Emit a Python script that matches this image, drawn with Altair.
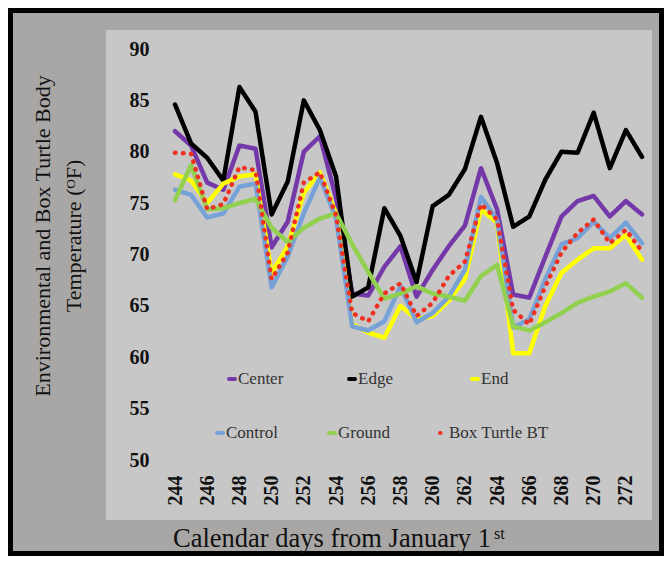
import altair as alt
import pandas as pd

# ---- data ----
days = list(range(244, 274))
series = ["Center", "Edge", "End", "Control", "Ground", "Box Turtle BT"]
colors = ["#7438a8", "#000000", "#ffff00", "#76a2d8", "#92d050", "#f03020"]
dashes = [[1, 0], [1, 0], [1, 0], [1, 0], [1, 0], [0.5, 7.5]]

center = [82.0, 80.6, 77.0, 76.3, 80.6, 80.3, 70.7, 73.2, 80.0, 81.5,
          75.5, 66.2, 66.0, 68.8, 70.8, 65.9, 68.5, 70.8, 72.8, 78.4,
          74.4, 66.1, 65.8, 69.8, 73.7, 75.2, 75.7, 73.7, 75.2, 73.9]
edge = [84.6, 80.8, 79.4, 77.2, 86.3, 83.9, 73.9, 77.1, 85.0, 82.1,
        77.6, 65.9, 66.8, 74.5, 71.8, 67.3, 74.7, 75.8, 78.3, 83.4,
        78.9, 72.7, 73.7, 77.3, 80.0, 79.9, 83.8, 78.4, 82.1, 79.5]
end = [77.8, 77.2, 75.0, 76.9, 77.6, 77.8, 68.2, 70.8, 76.0, 78.0,
       74.0, 63.2, 62.4, 61.9, 65.0, 63.7, 64.0, 65.5, 67.6, 74.4,
       73.1, 60.4, 60.4, 65.0, 68.2, 69.5, 70.6, 70.6, 71.9, 69.5]
control = [76.3, 75.8, 73.6, 74.0, 76.6, 76.9, 66.8, 69.8, 74.0, 77.5,
           73.5, 63.0, 62.6, 63.5, 66.9, 63.4, 64.3, 65.9, 68.5, 75.6,
           73.4, 62.9, 63.7, 67.6, 71.0, 71.6, 73.2, 71.6, 73.1, 71.1]
ground = [75.3, 78.7, 74.4, 74.5, 75.0, 75.4, 72.6, 71.2, 72.6, 73.5,
          74.0, 71.0, 68.3, 65.7, 66.2, 66.9, 66.2, 65.9, 65.5, 67.9,
          69.0, 63.0, 62.6, 63.4, 64.3, 65.3, 65.9, 66.4, 67.2, 65.8]
box_turtle = [79.9, 79.8, 74.4, 74.9, 78.5, 78.2, 67.6, 70.2, 77.0, 78.0,
              73.8, 64.3, 63.5, 66.2, 67.2, 64.0, 65.3, 67.9, 69.3, 74.9,
              73.4, 64.6, 63.2, 66.9, 70.2, 72.1, 73.4, 71.1, 72.4, 70.3]

x_ticks = list(range(244, 273, 2))
y_ticks = list(range(50, 91, 5))
y_title = ["Environmental and Box Turtle Body", "Temperature (\u1d3cF)"]
x_title = "Calendar days from January 1"
x_title_sup = "st"

values = [center, edge, end, control, ground, box_turtle]
rows = []
for name, vals in zip(series, values):
    for d, v in zip(days, vals):
        rows.append({"day": d, "temp": v, "series": name})
df = pd.DataFrame(rows)
one = pd.DataFrame({"k": [0]})

# ---- layout (pixels, relative to the plot area) ----
SERIF = "Liberation Serif"
W, H = 467, 411
PAD = {"left": 167, "top": 41, "right": 22, "bottom": 96}
leg_px = [57, 177, 300, 45, 157, 268]      # legend marker centres
leg_py = [330, 330, 330, 384, 384, 384]    # legend row centres
leg = pd.DataFrame({"series": series})
leg["x0"] = [p - 3 for p in leg_px]
leg["x1"] = [p + 3 for p in leg_px]
leg["tx"] = [p + 6 for p in leg_px]
leg["py"] = leg_py

color_scale = alt.Scale(domain=series, range=colors)
dash_scale = alt.Scale(domain=series, range=dashes)

border = alt.Chart(one).mark_rect(fill="#a9a7a5", stroke="#000000", strokeWidth=5).encode(
    x=alt.value(-164.5), x2=alt.value(486.5), y=alt.value(-38.5), y2=alt.value(504.5))

panel = alt.Chart(one).mark_rect(fill="#c7c7c7").encode(
    x=alt.value(-69), x2=alt.value(477), y=alt.value(-19), y2=alt.value(471))

lines = alt.Chart(df).mark_line(strokeWidth=4.5, strokeCap="round", strokeJoin="round").encode(
    x=alt.X("day:Q",
            scale=alt.Scale(domain=[244, 273], nice=False, zero=False),
            axis=alt.Axis(values=x_ticks, title=None, grid=False, domain=False, ticks=False,
                          tickSize=0, labelPadding=15, labelAngle=270, labelAlign="right",
                          labelBaseline="middle", labelFont=SERIF, labelFontSize=20,
                          labelFontWeight="bold", labelColor="#111111", labelFlush=False,
                          labelOverlap=False, zindex=1)),
    y=alt.Y("temp:Q",
            scale=alt.Scale(domain=[50, 90], nice=False, zero=False),
            axis=alt.Axis(values=y_ticks, title=None, grid=False, domain=False, ticks=False,
                          tickSize=0, labelPadding=26, labelFont=SERIF, labelFontSize=20,
                          labelFontWeight="bold", labelColor="#111111", zindex=1)),
    color=alt.Color("series:N", sort=series, scale=color_scale, legend=None),
    strokeDash=alt.StrokeDash("series:N", sort=series, scale=dash_scale, legend=None),
)

leg_marks = alt.Chart(leg).mark_rule(strokeWidth=4, strokeCap="round").encode(
    x=alt.X("x0:Q", scale=None, axis=None), x2="x1:Q",
    y=alt.Y("py:Q", scale=None, axis=None),
    color=alt.Color("series:N", sort=series, scale=color_scale, legend=None),
    strokeDash=alt.StrokeDash("series:N", sort=series, scale=dash_scale, legend=None),
)

leg_text = alt.Chart(leg).mark_text(font=SERIF, fontSize=17, color="#333333", align="left",
                                    baseline="middle").encode(
    x=alt.X("tx:Q", scale=None, axis=None), y=alt.Y("py:Q", scale=None, axis=None),
    text="series:N")

ytitle = alt.Chart(one).mark_text(text=y_title, angle=270, font=SERIF, fontSize=22,
                                  lineHeight=31, align="center", baseline="middle",
                                  color="#111111").encode(x=alt.value(-132), y=alt.value(187))

xtitle = alt.Chart(one).mark_text(text=x_title, font=SERIF, fontSize=26.5, align="left",
                                  baseline="alphabetic", color="#111111").encode(
    x=alt.value(-2), y=alt.value(498))

xsup = alt.Chart(one).mark_text(text=x_title_sup, font=SERIF, fontSize=16, align="left",
                                baseline="alphabetic", color="#111111").encode(
    x=alt.value(319), y=alt.value(490))

chart = alt.layer(border, panel, lines, leg_marks, leg_text, ytitle, xtitle, xsup).properties(
    width=W, height=H, padding=PAD, autosize=alt.AutoSizeParams(type="none")
).configure(background="#a9a7a5").configure_view(stroke=None)

chart.save("out.html", embed_options={"renderer": "svg", "actions": False})
